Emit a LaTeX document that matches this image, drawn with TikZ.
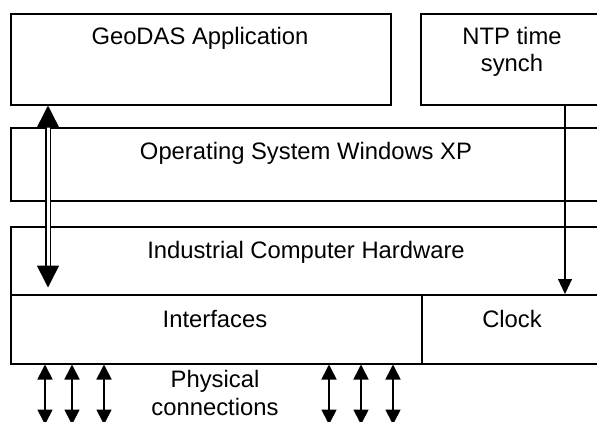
\documentclass[tikz,border=0pt]{standalone}
\usepackage{fontspec}
\setmainfont{Liberation Sans}
\usetikzlibrary{arrows.meta,calc}
\begin{document}
\begin{tikzpicture}[x=1pt,y=-1pt,
  box/.style={draw,line width=1.5pt,anchor=north west,inner sep=0pt},
  lbl/.style={font=\fontsize{23.8}{27.5}\selectfont,inner sep=0pt,align=center},
  phys/.style={line width=1.7pt,{Triangle[width=15pt,length=15pt]}-{Triangle[width=15pt,length=15pt]}},
  ntparrow/.style={line width=1.1pt,-{Triangle[width=14pt,length=15pt]}},
  dbl/.style={double,double distance=3pt,line width=1.5pt,
    {Triangle[width=22pt,length=22pt]}-{Triangle[width=22pt,length=22pt]}}]
\useasboundingbox (0,0) rectangle (597,421);
\clip (0,0) rectangle (597,421);
% boxes
\node[box,minimum width=380pt,minimum height=91pt] (geo) at (10,13) {};
\node[box,minimum width=200pt,minimum height=91pt] (ntp) at (420,13) {};
\node[box,minimum width=610pt,minimum height=73pt] (os) at (10,127) {};
\node[box,minimum width=610pt,minimum height=68pt] (hw) at (10,226) {};
\node[box,minimum width=411pt,minimum height=69pt] (ifc) at (10,294) {};
\node[box,minimum width=199pt,minimum height=69pt] (clk) at (421,294) {};
% labels
\node[lbl] (tgeo) at (200,38) {GeoDAS Application};
\node[lbl] (tntp) at (512,52) {NTP time\\synch};
\node[lbl] (tos) at (306,153) {Operating System Windows XP};
\node[lbl] (thw) at (306,252) {Industrial Computer Hardware};
\node[lbl] (tifc) at (215,319) {Interfaces};
\node[lbl] (tclk) at (512,319) {Clock};
\node[lbl] (tphys) at (215,393) {Physical\\connections};
% double arrow
\coordinate (dtop) at ($(geo.south west)+(38,0)$);
\coordinate (dbot) at ($(hw.south west)+(38,-8)$);
\draw[dbl] (dtop) -- (dbot);
% NTP arrow
\coordinate (n1) at ($(ntp.south west)+(145,0)$);
\draw[ntparrow] (n1) -- (n1 |- clk.north);
% physical connections
\foreach \i/\xx in {1/45,2/72,3/104,4/329,5/361,6/393}{
  \coordinate (p\i) at ($(ifc.south west)+(\xx-10,0)$);
  \coordinate (q\i) at ($(p\i)+(0,60)$);
  \draw[phys] (p\i) -- (q\i);
}
\end{tikzpicture}
\end{document}
